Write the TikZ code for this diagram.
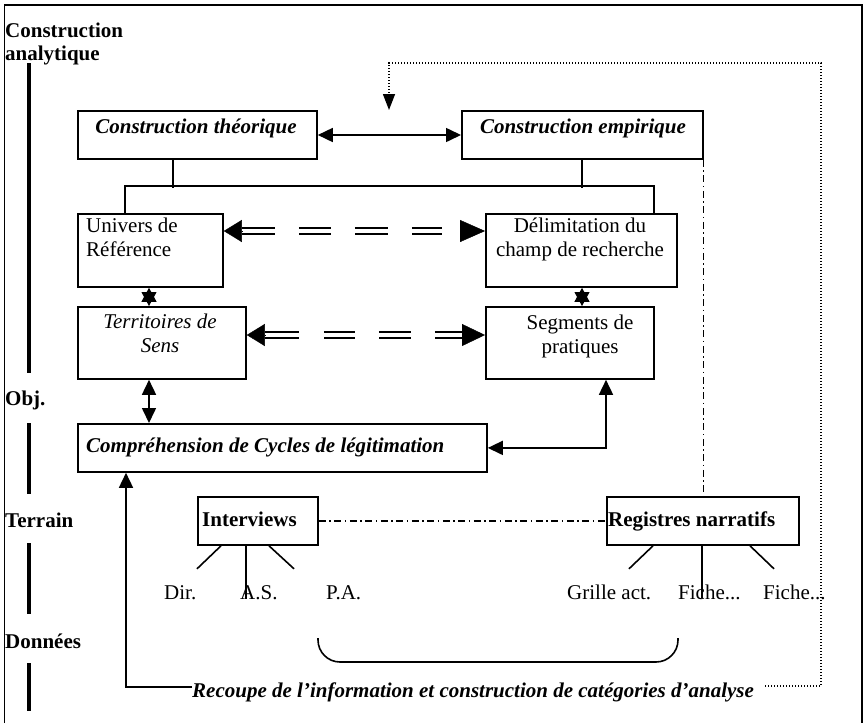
\documentclass[tikz,border=0pt]{standalone}
\usepackage{fontspec}
\setmainfont{Liberation Serif}
\usetikzlibrary{arrows.meta,calc}

\begin{document}
\begin{tikzpicture}[x=1pt,y=-1pt,
  every node/.style={font=\fontsize{21}{24}\selectfont, inner sep=0pt},
  box/.style={draw, line width=1.8pt, rectangle, anchor=north west, inner sep=0pt},
  side/.style={anchor=base west, font=\fontsize{21}{24}\selectfont\bfseries},
  bar/.style={line width=4pt},
  conn/.style={line width=1.6pt},
  >={Triangle[length=15pt,width=14pt]},
  dotline/.style={line width=1.4pt, dash pattern=on 1.3pt off 1.7pt},
  dashdot/.style={line width=1.3pt, dash pattern=on 7pt off 3.5pt on 1.5pt off 3.5pt},
  dbl/.style={line width=2.4pt, double, double distance=4pt},
  bighead/.style={-{Triangle[length=#1,width=22pt]}},
  star/.style={{Triangle[length=14pt,width=15pt]}-{Triangle[length=14pt,width=15pt]}, line width=1pt},
]
\useasboundingbox (0,0) rectangle (864,723);

% frame
\draw[line width=1.5pt] (4.5,723) -- (4.5,5) -- (862,5) -- (862,723);

% side labels and level bars
\node[side] (lab-ca1) at (5,37) {Construction};
\node[side] (lab-ca2) at (5,60) {analytique};
\node[side] (lab-obj) at (5,405) {Obj.};
\node[side] (lab-ter) at (5,527) {Terrain};
\node[side] (lab-don) at (5,648) {Données};
\draw[bar] (29,63) -- (29,373);
\draw[bar] (29,423) -- (29,494);
\draw[bar] (29,543) -- (29,614);
\draw[bar] (29,663) -- (29,711);

% boxes
\node[box, minimum width=239pt, minimum height=48pt] (ct) at (77,110) {};
\node[box, minimum width=241pt, minimum height=48pt] (ce) at (461,110) {};
\node[box, minimum width=145pt, minimum height=73pt] (ur) at (77,213) {};
\node[box, minimum width=191pt, minimum height=73pt] (dc) at (485,213) {};
\node[box, minimum width=168pt, minimum height=72pt] (ts) at (77,306) {};
\node[box, minimum width=168pt, minimum height=72pt] (sp) at (485,306) {};
\node[box, minimum width=409pt, minimum height=48pt] (comp) at (77,423) {};
\node[box, minimum width=120pt, minimum height=48pt] (iv) at (197,496) {};
\node[box, minimum width=192pt, minimum height=48pt] (rn) at (606,496) {};

% box texts
\node[anchor=base, font=\fontsize{21}{24}\selectfont\bfseries\itshape] (ct-t) at (196,133) {Construction théorique};
\node[anchor=base, font=\fontsize{21}{24}\selectfont\bfseries\itshape] (ce-t) at (583,133) {Construction empirique};
\node[anchor=base west] (ur-t) at (86,232) {\begin{tabular}[t]{@{}l@{}}Univers de\\Référence\end{tabular}};
\node[anchor=base] (dc-t) at (580,232) {\begin{tabular}[t]{@{}c@{}}Délimitation du\\champ de recherche\end{tabular}};
\node[anchor=base, font=\fontsize{21}{24}\selectfont\itshape] (ts-t) at (160,328) {\begin{tabular}[t]{@{}c@{}}Territoires de\\Sens\end{tabular}};
\node[anchor=base] (sp-t) at (580,329) {\begin{tabular}[t]{@{}c@{}}Segments de\\pratiques\end{tabular}};
\node[anchor=base west, font=\fontsize{21}{24}\selectfont\bfseries\itshape] (comp-t) at (86,452) {Compréhension de Cycles de légitimation};
\node[anchor=base west, font=\fontsize{21}{24}\selectfont\bfseries] (iv-t) at (202,526) {Interviews};
\node[anchor=base west, font=\fontsize{21}{24}\selectfont\bfseries] (rn-t) at (608,526) {Registres narratifs};

% data sources
\node[anchor=base west] (d-dir) at (164,599) {Dir.};
\node[anchor=base west] (d-as) at (240,599) {A.S.};
\node[anchor=base west] (d-pa) at (326,599) {P.A.};
\node[anchor=base west] (d-ga) at (567,599) {Grille act.};
\node[anchor=base west] (d-f1) at (678,599) {Fiche...};
\node[anchor=base west] (d-f2) at (763,599) {Fiche...};

\node[anchor=base west, font=\fontsize{21}{24}\selectfont\bfseries\itshape] (rc) at (192,697) {Recoupe de l’information et construction de catégories d’analyse};

% theory <-> empirical
\draw[conn,<->] (ct.east |- 0,135) -- (ce.west |- 0,135);

% branches down to the second level
\draw[conn] ($(ct.south west)+(96,0)$) -- ++(0,28);
\draw[conn] ($(ce.south west)+(121,0)$) -- ++(0,28);
\draw[conn] ($(ur.north west)+(48,0)$) -- ++(0,-27) -| ($(dc.north west)+(169,0)$);

% double dashed links between the two columns
\draw[dbl, dash pattern=on 33pt off 24pt on 32pt off 24pt on 33pt off 24pt on 32pt off 200pt]
  ($(ur.east |- 0,231)+(18,0)$) -- ($(dc.west |- 0,231)+(-43,0)$);
\draw[bighead=18pt] ($(ur.east |- 0,231)+(18,0)$) -- (ur.east |- 0,231);
\draw[bighead=25pt] ($(dc.west |- 0,231)+(-25,0)$) -- (dc.west |- 0,231);

\draw[dbl, dash pattern=on 34pt off 25pt on 31pt off 24pt on 32pt off 24pt on 40pt off 200pt]
  ($(ts.east |- 0,335)+(18,0)$) -- ($(sp.west |- 0,335)+(-23,0)$);
\draw[bighead=18pt] ($(ts.east |- 0,335)+(18,0)$) -- (ts.east |- 0,335);
\draw[bighead=23pt] ($(sp.west |- 0,335)+(-23,0)$) -- (sp.west |- 0,335);

% two-way links between stacked boxes
\draw[star] ($(ur.south west)+(72,0)$) -- ($(ts.north west)+(72,0)$);
\draw[star] ($(dc.south west)+(97,0)$) -- ($(sp.north west)+(97,0)$);

% links to the understanding of legitimation cycles
\draw[conn,<->] ($(ts.south west)+(72,0)$) -- ($(comp.north west)+(72,0)$);
\draw[conn,<->] ($(sp.south west)+(121,0)$) |- (comp.east);

% field links
\draw[dashdot] (iv.east) -- (rn.west);
\draw[dashdot] (ce.south east) -- (ce.south east |- rn.north);

% interview branches
\draw[conn] ($(iv.south west)+(24,0)$) -- ++(-24,23);
\draw[conn] ($(iv.south west)+(49,0)$) -- ++(0,53);
\draw[conn] ($(iv.south west)+(72,0)$) -- ++(25,23);
% narrative register branches
\draw[conn] ($(rn.south west)+(47,0)$) -- ++(-24,23);
\draw[conn] ($(rn.south west)+(96,0)$) -- ++(0,52);
\draw[conn] ($(rn.south west)+(144,0)$) -- ++(24,23);

% grouping bracket
\draw[conn, rounded corners=22pt] (318,638) -- (318,662) -- (678,662) -- (678,638);

% feedback from cross-checking
\draw[conn,->] ($(rc.base west)+(0,-10)$) -| ($(comp.south west)+(49,0)$);
\coordinate (fb-top) at (389,110);
\draw[dotline, -{Triangle[length=16pt,width=12pt]}] ($(rc.base east)+(11,-11)$) -| (821,63) -| (fb-top);

\end{tikzpicture}
\end{document}
